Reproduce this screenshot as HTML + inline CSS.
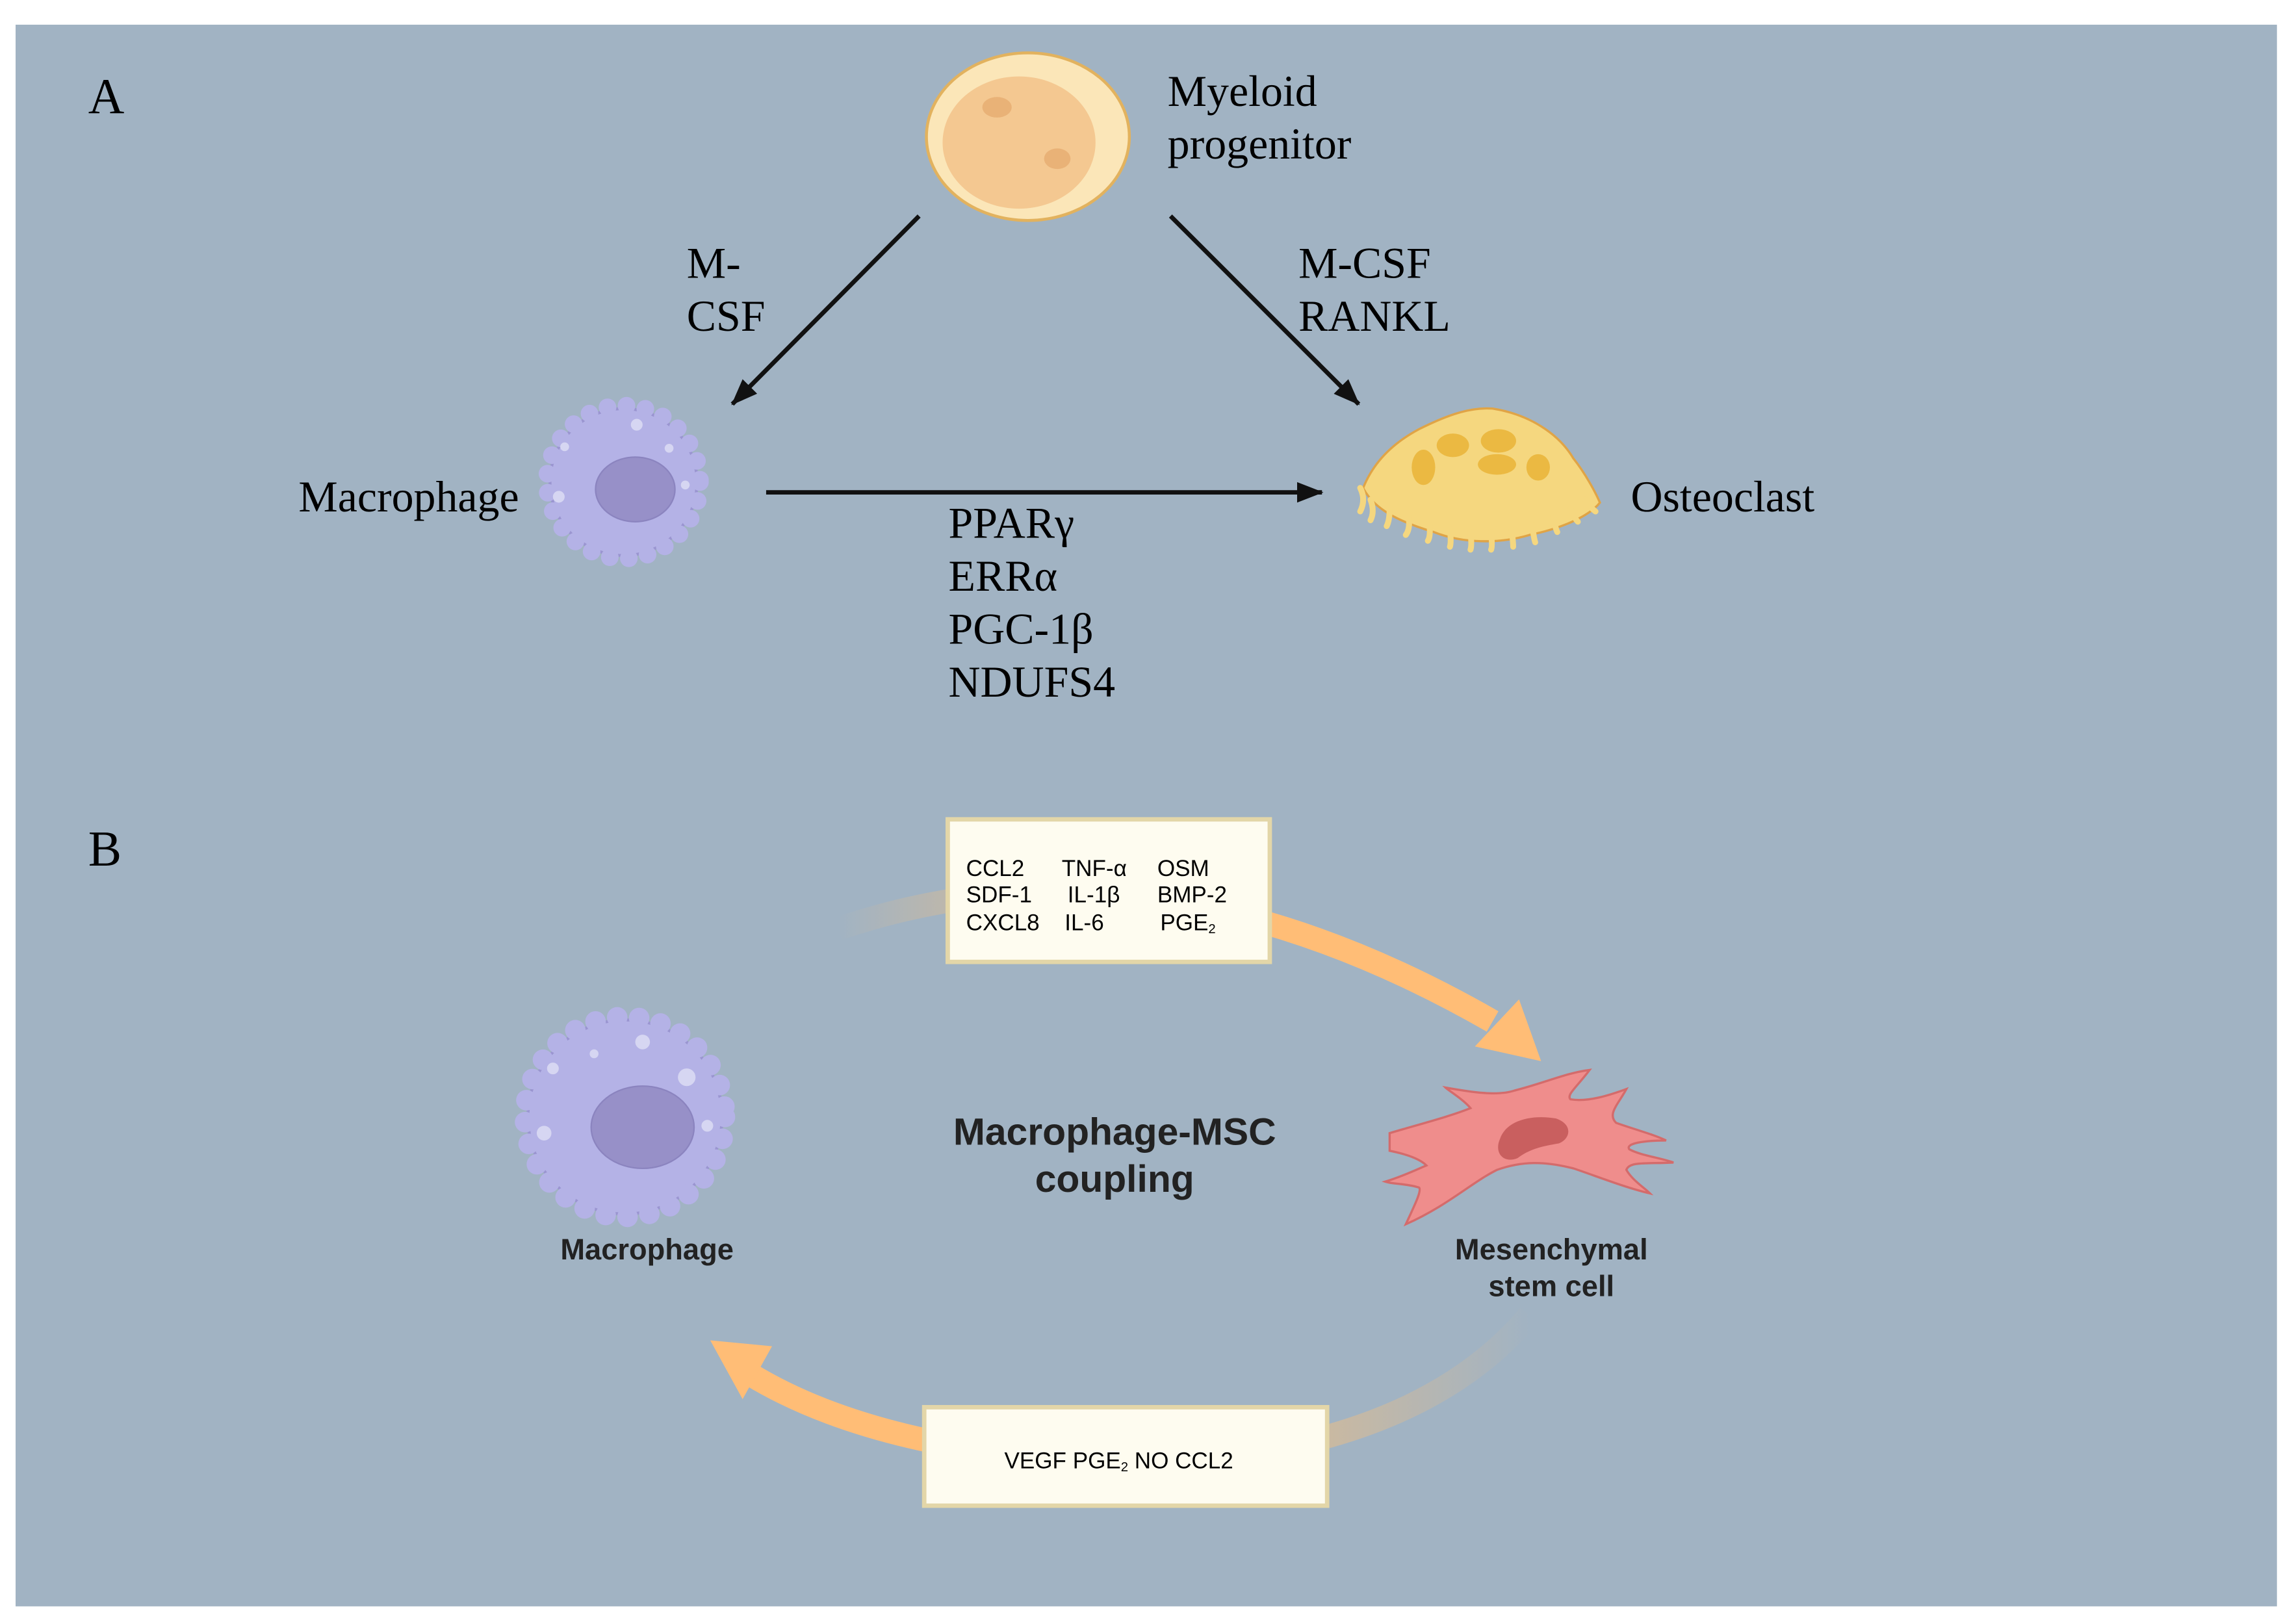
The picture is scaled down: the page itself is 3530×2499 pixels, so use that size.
<!DOCTYPE html>
<html><head><meta charset="utf-8"><style>
html,body{margin:0;padding:0;background:#fff;}
svg{display:block;}
.serif{font-family:"Liberation Serif",serif;fill:#000;}
.sans{font-family:"Liberation Sans",sans-serif;fill:#000;}
.bold{font-family:"Liberation Sans",sans-serif;font-weight:bold;fill:#222;}
</style></head><body>
<svg width="3530" height="2499" viewBox="0 0 1560 1105" preserveAspectRatio="none" xmlns="http://www.w3.org/2000/svg">
<defs>
<marker id="ah" markerWidth="18" markerHeight="14" refX="17" refY="7" orient="auto" markerUnits="userSpaceOnUse" viewBox="0 0 18 14"><path d="M0,0 L18,7 L0,14 z" fill="#111"/></marker>
<linearGradient id="g1" x1="570" y1="0" x2="1000" y2="0" gradientUnits="userSpaceOnUse"><stop offset="0" stop-color="#a1b3c3"/><stop offset="0.25" stop-color="#c9b9a2"/><stop offset="0.7" stop-color="#ffbd76"/><stop offset="1" stop-color="#ffbd76"/></linearGradient>
<linearGradient id="g2" x1="1040" y1="0" x2="500" y2="0" gradientUnits="userSpaceOnUse"><stop offset="0" stop-color="#a1b3c3"/><stop offset="0.25" stop-color="#c9b9a2"/><stop offset="0.6" stop-color="#ffbd76"/><stop offset="1" stop-color="#ffbd76"/></linearGradient>
</defs>
<rect x="0" y="0" width="1560" height="1105" fill="#fff"/>
<rect x="10.6" y="16.8" width="1537.8" height="1076.2" fill="#a1b3c3"/>

<text class="serif" x="60" y="77" font-size="34">A</text>
<text class="serif" x="60" y="589" font-size="34">B</text>

<!-- Myeloid progenitor -->
<ellipse cx="699" cy="93" rx="69" ry="57" fill="#fbe6b8" stroke="#e2b25e" stroke-width="2"/>
<ellipse cx="693" cy="97" rx="52" ry="45" fill="#f4c891"/>
<ellipse cx="678" cy="73" rx="10" ry="7" fill="#e9b277"/>
<ellipse cx="719" cy="108" rx="9" ry="7" fill="#e9b277"/>
<text class="serif" x="794" y="72" font-size="30">Myeloid</text>
<text class="serif" x="794" y="108" font-size="30">progenitor</text>

<!-- arrows -->
<line x1="625" y1="147" x2="498" y2="275" stroke="#111" stroke-width="3" marker-end="url(#ah)"/>
<line x1="796" y1="147" x2="924" y2="275" stroke="#111" stroke-width="3" marker-end="url(#ah)"/>
<line x1="521" y1="335" x2="899" y2="335" stroke="#111" stroke-width="3" marker-end="url(#ah)"/>
<text class="serif" x="467" y="189" font-size="30">M-</text>
<text class="serif" x="467" y="225" font-size="30">CSF</text>
<text class="serif" x="883" y="189" font-size="30">M-CSF</text>
<text class="serif" x="883" y="225" font-size="30">RANKL</text>
<text class="serif" x="645" y="366" font-size="30">PPARγ</text>
<text class="serif" x="645" y="402" font-size="30">ERRα</text>
<text class="serif" x="645" y="438" font-size="30">PGC-1β</text>
<text class="serif" x="645" y="474" font-size="30">NDUFS4</text>

<!-- Macrophage A -->
<circle cx="424" cy="328" r="50" fill="#b4b2e6" stroke="#9a95d0" stroke-width="2"/>
<circle cx="424" cy="328" r="52" fill="none" stroke="#b4b2e6" stroke-width="12" stroke-dasharray="0 13" stroke-linecap="round"/>
<ellipse cx="432" cy="333" rx="27" ry="22" fill="#9790c8" stroke="#8b84bf"/>
<circle cx="384" cy="304" r="3" fill="#d6d6f2"/><circle cx="433" cy="289" r="4" fill="#d6d6f2"/><circle cx="380" cy="338" r="4" fill="#d6d6f2"/><circle cx="466" cy="330" r="3" fill="#d6d6f2"/><circle cx="455" cy="305" r="3" fill="#d6d6f2"/>
<text class="serif" x="203" y="348" font-size="30">Macrophage</text>

<!-- Osteoclast -->
<path d="M927,332 C935,312 950,300 965,292 C985,282 1000,277 1015,278 C1040,282 1060,295 1070,312 C1078,322 1085,335 1088,342 C1080,352 1060,360 1040,364 C1020,370 995,370 975,362 C955,356 935,348 927,332 z" fill="#f5d77f" stroke="#e0a446" stroke-width="1.5"/>
<path d="M925,332 q4,8 0,16 M932,340 q3,8 0,14 M945,346 q0,8 -2,12 M958,352 q1,8 -2,12 M972,356 q1,9 -1,12 M986,360 q1,9 0,12 M1000,362 q1,9 0,12 M1014,362 q1,10 0,12 M1028,360 q1,9 1,12 M1042,357 q1,9 2,12 M1056,352 q2,8 3,10 M1068,346 q3,7 5,9 M1078,340 q4,6 7,8" stroke="#f5d77f" stroke-width="4" fill="none" stroke-linecap="round"/>
<ellipse cx="968" cy="318" rx="8" ry="12" fill="#ebb942"/>
<ellipse cx="988" cy="303" rx="11" ry="8" fill="#ebb942"/>
<ellipse cx="1019" cy="300" rx="12" ry="8" fill="#ebb942"/>
<ellipse cx="1018" cy="316" rx="13" ry="7" fill="#ebb942"/>
<ellipse cx="1046" cy="318" rx="8" ry="9" fill="#ebb942"/>
<text class="serif" x="1109" y="348" font-size="30">Osteoclast</text>

<!-- B arcs -->
<path d="M570,632 Q780,560 1015,695" fill="none" stroke="url(#g1)" stroke-width="16"/>
<path d="M1003,712 L1048,722 L1033,680 z" fill="#ffbd76"/>
<path d="M1040,895 Q960,990 770,996 Q600,990 510,935" fill="none" stroke="url(#g2)" stroke-width="16"/>
<path d="M525,916 L483,912 L505,952 z" fill="#ffbd76"/>

<rect x="644.5" y="557.5" width="219" height="97" fill="#fefcf0" stroke="#e3d6a8" stroke-width="3"/>
<g class="sans" font-size="15.5">
<text x="657" y="596">CCL2</text><text x="722" y="596">TNF-α</text><text x="787" y="596">OSM</text>
<text x="657" y="614">SDF-1</text><text x="726" y="614">IL-1β</text><text x="787" y="614">BMP-2</text>
<text x="657" y="633">CXCL8</text><text x="724" y="633">IL-6</text><text x="789" y="633">PGE<tspan font-size="9" dy="2">2</tspan></text>
</g>
<rect x="628.5" y="957.5" width="274" height="67" fill="#fefcf0" stroke="#e3d6a8" stroke-width="3"/>
<text class="sans" x="683" y="999" font-size="15.5">VEGF  PGE<tspan font-size="9" dy="2">2</tspan><tspan dy="-2">  NO  CCL2</tspan></text>

<!-- Macrophage B -->
<circle cx="425" cy="760" r="66" fill="#b4b2e6" stroke="#9a95d0" stroke-width="2"/>
<circle cx="425" cy="760" r="68" fill="none" stroke="#b4b2e6" stroke-width="14" stroke-dasharray="0 15" stroke-linecap="round"/>
<ellipse cx="437" cy="767" rx="35" ry="28" fill="#9790c8" stroke="#8b84bf"/>
<circle cx="376" cy="727" r="4" fill="#d6d6f2"/><circle cx="437" cy="709" r="5" fill="#d6d6f2"/><circle cx="370" cy="771" r="5" fill="#d6d6f2"/><circle cx="481" cy="766" r="4" fill="#d6d6f2"/><circle cx="467" cy="733" r="6" fill="#d6d6f2"/><circle cx="404" cy="717" r="3" fill="#d6d6f2"/>
<text class="bold" x="440" y="857" font-size="20" text-anchor="middle">Macrophage</text>

<!-- MSC -->
<path d="M945,771 C965,765 985,760 1000,754 C995,748 985,742 983,740 C1000,743 1018,746 1030,742 C1050,737 1065,730 1081,728 C1072,740 1065,745 1068,748 C1080,750 1095,745 1106,741 C1100,752 1093,758 1099,764 C1110,768 1125,772 1133,776 C1118,776 1105,778 1108,782 C1115,786 1130,788 1138,791 C1120,792 1108,790 1106,796 C1110,803 1118,808 1122,812 C1105,808 1085,800 1070,795 C1050,790 1035,790 1018,796 C1000,805 985,820 956,833 C962,820 967,810 965,808 C955,805 948,806 942,804 C955,800 965,795 970,793 C965,788 955,785 945,783 z" fill="#ef8d8c" stroke="#d46b6b" stroke-width="1.5"/>
<path d="M1020,775 C1024,763 1040,758 1058,761 C1070,765 1068,775 1060,778 C1048,780 1040,782 1032,788 C1022,792 1016,784 1020,775 z" fill="#c95f5f"/>
<text class="bold" x="1055" y="857" font-size="20" text-anchor="middle">Mesenchymal</text>
<text class="bold" x="1055" y="882" font-size="20" text-anchor="middle">stem cell</text>

<text class="bold" x="758" y="779" font-size="26" text-anchor="middle">Macrophage-MSC</text>
<text class="bold" x="758" y="811" font-size="26" text-anchor="middle">coupling</text>
</svg>
</body></html>
